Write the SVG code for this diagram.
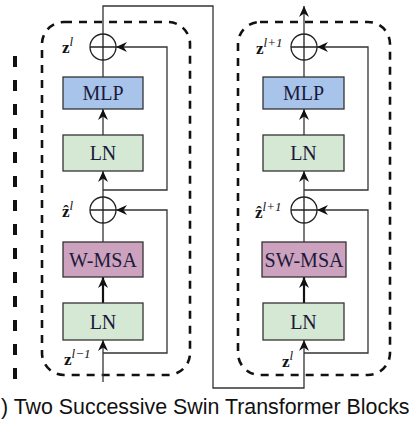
<svg xmlns="http://www.w3.org/2000/svg" width="419" height="428" viewBox="0 0 419 428">
<defs>
<marker id="ah" markerUnits="userSpaceOnUse" markerWidth="13" markerHeight="11" viewBox="-12 -5.5 13 11" refX="0" refY="0" orient="auto">
<path d="M0,0 L-11,-5 L-7.5,0 L-11,5 Z" fill="#111"/>
</marker>
</defs>
<style>
.blk{fill:none;stroke:#111;stroke-width:2.6;stroke-dasharray:8 7}
.box{stroke:#333;stroke-width:1.3}
.mlp{fill:#a9c4eb}.ln{fill:#d5e8d4}.msa{fill:#cda2be}
.bt{font-family:"Liberation Serif",serif;font-size:20px;fill:#1a1a3a;text-anchor:middle}
.lb{font-family:"Liberation Serif",serif;font-size:17px;font-weight:bold;fill:#111}
.sup{font-family:"Liberation Serif",serif;font-size:13px;font-style:italic;fill:#111}
.c{fill:none;stroke:#222;stroke-width:1.3}
.w{fill:none;stroke:#333;stroke-width:1.3}
.a{marker-end:url(#ah)}
.th{stroke:#111;stroke-width:2.2}
</style>
<rect width="419" height="428" fill="#fff"/>
<line x1="15" y1="56" x2="15" y2="380" stroke="#111" stroke-width="4" stroke-dasharray="11 13"/>
<rect class="blk" x="42" y="22" width="148" height="353" rx="22"/>
<rect class="blk" x="238" y="22" width="152" height="353" rx="22"/>
<g id="connectors">
<path class="w a" d="M103,382 V340"/>
<path class="w a th" d="M103,303 V277"/>
<path class="w" d="M103,242 V223"/>
<path class="w a" d="M103,197 V171"/>
<path class="w a" d="M103,135 V109"/>
<path class="w" d="M103,77 V60"/>
<path class="w a" d="M103,353 H167 V210 H116"/>
<path class="w a" d="M103,190 H167 V47 H116"/>
<path class="w a" d="M103,34 V6 H213 V388 H304 V340"/>
<path class="w a th" d="M304,303 V277"/>
<path class="w" d="M304,242 V223"/>
<path class="w a" d="M304,197 V171"/>
<path class="w a" d="M304,135 V109"/>
<path class="w" d="M304,77 V60"/>
<path class="w a" d="M304,353 H368 V210 H317"/>
<path class="w a" d="M304,190 H368 V47 H317"/>
<path class="w a" d="M304,34 V6"/>
</g>
<g id="add1"><circle class="c" cx="103" cy="47" r="13"/><path class="c" d="M90,47 H116 M103,34 V60"/></g>
<g id="add2"><circle class="c" cx="103" cy="210" r="13"/><path class="c" d="M90,210 H116 M103,197 V223"/></g>
<g id="add3"><circle class="c" cx="304" cy="47" r="13"/><path class="c" d="M291,47 H317 M304,34 V60"/></g>
<g id="add4"><circle class="c" cx="304" cy="210" r="13"/><path class="c" d="M291,210 H317 M304,197 V223"/></g>
<g id="mlp1"><rect class="box mlp" x="63" y="77" width="80" height="32"/><text class="bt" x="103" y="100">MLP</text></g>
<g id="ln1"><rect class="box ln" x="63" y="135" width="80" height="36"/><text class="bt" x="103" y="160">LN</text></g>
<g id="wmsa"><rect class="box msa" x="63" y="242" width="80" height="35"/><text class="bt" x="103" y="267">W-MSA</text></g>
<g id="ln2"><rect class="box ln" x="63" y="303" width="80" height="37"/><text class="bt" x="103" y="329">LN</text></g>
<g id="mlp2"><rect class="box mlp" x="263" y="77" width="81" height="32"/><text class="bt" x="303.5" y="100">MLP</text></g>
<g id="ln3"><rect class="box ln" x="263" y="135" width="81" height="36"/><text class="bt" x="303.5" y="160">LN</text></g>
<g id="swmsa"><rect class="box msa" x="262" y="242" width="84" height="35"/><text class="bt" x="304" y="267">SW-MSA</text></g>
<g id="ln4"><rect class="box ln" x="263" y="303" width="81" height="37"/><text class="bt" x="303.5" y="329">LN</text></g>
<g id="labels">
<text x="62" y="53"><tspan class="lb">z</tspan><tspan class="sup" dy="-7">l</tspan></text>
<text x="62" y="217"><tspan class="lb">ẑ</tspan><tspan class="sup" dy="-7">l</tspan></text>
<text x="64" y="365"><tspan class="lb">z</tspan><tspan class="sup" dy="-7">l−1</tspan></text>
<text x="256" y="54"><tspan class="lb">z</tspan><tspan class="sup" dy="-7">l+1</tspan></text>
<text x="255" y="218"><tspan class="lb">ẑ</tspan><tspan class="sup" dy="-7">l+1</tspan></text>
<text x="282" y="367"><tspan class="lb">z</tspan><tspan class="sup" dy="-7">l</tspan></text>
</g>
<text x="1" y="414" font-family="'Liberation Sans',Arial,sans-serif" font-size="21.4" fill="#111">) Two Successive Swin Transformer Blocks</text>
</svg>
